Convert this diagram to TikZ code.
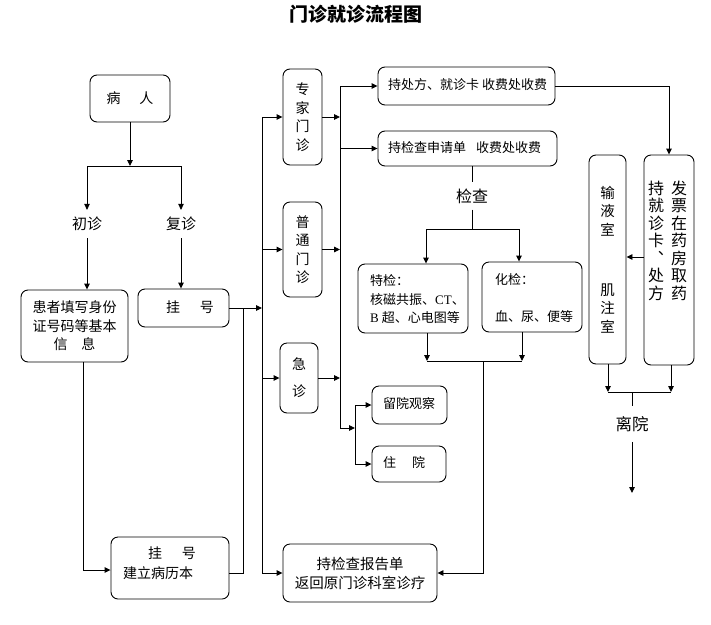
\documentclass[tikz,border=0pt]{standalone}
\usepackage{fontspec}
\setmainfont{Noto Sans CJK SC}
\newfontfamily\latserif{Liberation Serif}
\usetikzlibrary{arrows.meta}
\begin{document}
\begin{tikzpicture}[x=1pt,y=-1pt,
  box/.style={draw, rounded corners=7pt, line width=0.9pt, inner sep=0pt, align=center},
  txt/.style={inner sep=0pt, align=center},
  lbl/.style={inner xsep=2pt, align=center},
  fa/.style={font=\fontsize{13}{18.5}\selectfont},
  fb/.style={font=\fontsize{14}{18.5}\selectfont},
  fc/.style={font=\fontsize{15}{18.5}\selectfont},
  fd/.style={font=\fontsize{16}{17.5}\selectfont},
  ln/.style={line width=0.9pt},
  arr/.style={line width=0.9pt, -{Triangle[length=6pt,width=5.5pt]}},
]
\useasboundingbox (0,0) rectangle (711,624);

% title
\node[txt, font=\fontsize{19}{19}\bfseries\selectfont] (title) at (356,14.5) {门诊就诊流程图};

% left column
\node[box,fb,minimum width=80pt,minimum height=47pt] (bingren) at (130,98.5) {病\hspace{19pt}人};
\node[lbl,fc,inner ysep=7pt] (chuzhen) at (87,224) {初诊};
\node[lbl,fc,inner ysep=7pt] (fuzhen) at (181,224) {复诊};
\node[box,fb,minimum width=107pt,minimum height=72pt] (huanzhe) at (74.5,326) {患者填写身份\\证号码等基本\\信\hspace{14pt}息};
\node[box,minimum width=91pt,minimum height=38pt] (gua1) at (183.5,308) {};
\node[txt,fb] (gua1t) at (190,307) {挂\hspace{20pt}号};
\node[box,minimum width=118pt,minimum height=62pt] (gua2) at (170,568) {};
\node[txt,fb] (gua2a) at (172,553) {挂\hspace{20pt}号};
\node[txt,fb,anchor=west] (gua2b) at (123,573) {建立病历本};

% clinics
\node[box,fb,minimum width=39pt,minimum height=96pt] (zhuanjia) at (302.5,117) {专\\家\\门\\诊};
\node[box,fb,minimum width=39pt,minimum height=95pt] (putong) at (302.5,249.5) {普\\通\\门\\诊};
\node[box,fb,minimum width=38pt,minimum height=70pt] (jizhen) at (299,378) {急\\[8.5pt]诊};
\node[box,font=\fontsize{14.5}{19}\selectfont,minimum width=154pt,minimum height=58pt] (report) at (360,573) {持检查报告单\\返回原门诊科室诊疗};

% fees
\node[box,minimum width=177pt,minimum height=38pt] (chufang) at (466.5,86) {};
\node[txt,fa,anchor=west] (chufangt) at (388,85) {持处方、就诊卡 收费处收费};
\node[box,minimum width=179pt,minimum height=35pt] (shenqing) at (467.5,148.5) {};
\node[txt,fa,anchor=west] (shenqingt) at (388,148) {持检查申请单\hspace{10pt}收费处收费};
\node[lbl,font=\fontsize{16}{16}\selectfont,inner ysep=6pt] (jiancha) at (472,196) {检查};

% exams
\node[box,minimum width=110pt,minimum height=69pt] (tejian) at (413,298.5) {};
\node[txt,fa,anchor=west,align=left] (tejiant) at (370,299.5) {特检：\\核磁共振、{\latserif CT}、\\{\latserif B} 超、心电图等};
\node[box,minimum width=100pt,minimum height=70pt] (huajian) at (532,297) {};
\node[txt,fa,anchor=west,align=left] (huajiant) at (495,298) {化检：\\[19pt]血、尿、便等};

% observation
\node[box,minimum width=75pt,minimum height=38pt] (liuyuan) at (409.5,405) {};
\node[txt,fa,anchor=west] (liuyuant) at (383,403) {留院观察};
\node[box,minimum width=74pt,minimum height=36pt] (zhuyuan) at (409,464) {};
\node[txt,fa,anchor=west] (zhuyuant) at (383,462) {住\hspace{16pt}院};

% right side
\node[box,minimum width=50pt,minimum height=210pt] (fapiao) at (669,260) {};
\node[txt,fd] (fapiao1) at (679,240.5) {发\\票\\在\\药\\房\\取\\药};
\node[txt,fd] (fapiao2) at (656,240.5) {持\\就\\诊\\卡\\︑\\处\\方};
\node[box,font=\fontsize{14.5}{18.5}\selectfont,minimum width=37pt,minimum height=209pt] (shuye) at (607.5,259.5) {输\\液\\室\\[41.5pt]肌\\注\\室};
\node[lbl,font=\fontsize{16.5}{16.5}\selectfont,inner ysep=10pt] (liyuan) at (632,424) {离院};

% coordinates
\coordinate (s1) at (130,166);
\coordinate (s1l) at (87,166);
\coordinate (s1r) at (181,166);
\coordinate (busA) at (262,117);
\coordinate (busB) at (262,573);
\coordinate (j1) at (243,308);
\coordinate (bus2A) at (340,86);
\coordinate (bus2B) at (340,428);
\coordinate (bus3) at (355,428);
\coordinate (jc) at (472,229);
\coordinate (jcl) at (426,229);
\coordinate (jcr) at (519,229);
\coordinate (ml) at (427,361);
\coordinate (mr) at (522,361);
\coordinate (mm) at (483,361);
\coordinate (rt) at (669,86);
\coordinate (ll) at (608,392);
\coordinate (lr) at (671,392);
\coordinate (lm) at (632,392);
\coordinate (exit) at (632,493);

% connectors left
\draw[arr] (bingren.south) -- (s1);
\draw[ln] (s1l) -- (s1r);
\draw[arr] (s1l) -- (chuzhen.north);
\draw[arr] (s1r) -- (fuzhen.north);
\draw[arr] (chuzhen.south) -- (chuzhen.south |- huanzhe.north);
\draw[arr] (fuzhen.south) -- (fuzhen.south |- gua1.north);
\draw[arr] ([xshift=8.5pt]huanzhe.south) |- ([yshift=-2pt]gua2.west);
\draw[ln] ([yshift=-5pt]gua2.east) -| (j1);
\draw[arr] (gua1.east) -- (gua1.east -| busA);

% main bus
\draw[ln] (busA) -- (busB);
\draw[arr] (busA) -- (zhuanjia.west);
\draw[arr] (busA |- putong.west) -- (putong.west);
\draw[arr] (busA |- jizhen.west) -- (jizhen.west);
\draw[arr] (busB) -- (report.west);

% second bus
\draw[ln] (bus2A) -- (bus2B);
\draw[arr] (zhuanjia.east) -- (zhuanjia.east -| bus2A);
\draw[arr] (putong.east) -- (putong.east -| bus2A);
\draw[arr] (jizhen.east) -- (jizhen.east -| bus2A);
\draw[arr] (bus2A) -- (chufang.west);
\draw[arr] (bus2A |- shenqing.west) -- (shenqing.west);
\draw[arr] (bus2B) -- (bus3);
\draw[ln] (bus3 |- liuyuan.west) -- (bus3 |- zhuyuan.west);
\draw[arr] (bus3 |- liuyuan.west) -- (liuyuan.west);
\draw[arr] (bus3 |- zhuyuan.west) -- (zhuyuan.west);

% exams
\draw[ln] ([xshift=4.5pt]shenqing.south) -- (jiancha.north);
\draw[ln] (jiancha.south) -- (jc);
\draw[ln] (jcl) -- (jcr);
\draw[arr] (jcl) -- (jcl |- tejian.north);
\draw[arr] (jcr) -- (jcr |- huajian.north);
\draw[arr] (tejian.south -| ml) -- (ml);
\draw[arr] (huajian.south -| mr) -- (mr);
\draw[ln] (ml) -- (mr);
\draw[arr] (mm) |- (report.east);

% right side
\draw[ln] (chufang.east) -- (rt);
\draw[arr] (rt) -- (fapiao.north);
\draw[arr] ([yshift=3pt]fapiao.west) -- ([yshift=3pt]fapiao.west -| shuye.east);
\draw[arr] (shuye.south -| ll) -- (ll);
\draw[arr] (fapiao.south -| lr) -- (lr);
\draw[ln] (ll) -- (lr);
\draw[ln] (lm) -- (liyuan.north);
\draw[arr] (liyuan.south) -- (exit);
\end{tikzpicture}
\end{document}
